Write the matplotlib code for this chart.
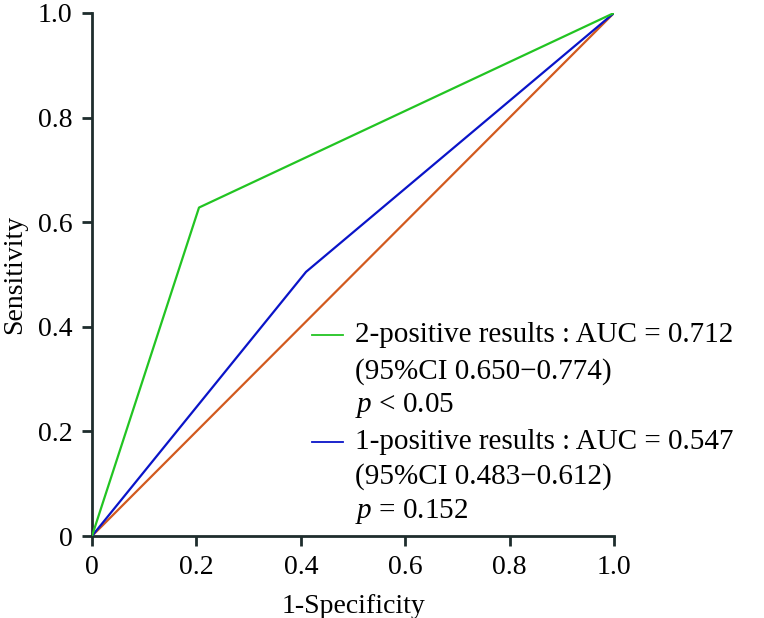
import matplotlib
matplotlib.use("Agg")
import matplotlib.pyplot as plt

plt.rcParams['font.family'] = ['Liberation Serif', 'DejaVu Serif']
plt.rcParams['mathtext.fontset'] = 'custom'
plt.rcParams['mathtext.rm'] = 'Liberation Serif'
plt.rcParams['mathtext.it'] = 'Liberation Serif:italic'

# Data
fpr_two = [0.0, 0.205, 1.0]
tpr_two = [0.0, 0.628, 1.0]
fpr_one = [0.0, 0.41, 1.0]
tpr_one = [0.0, 0.505, 1.0]
ref_x = [0.0, 1.0]
ref_y = [0.0, 1.0]
ticks = [0, 0.2, 0.4, 0.6, 0.8, 1.0]
tick_labels = ["0", "0.2", "0.4", "0.6", "0.8", "1.0"]
label_two = ["2-positive results : AUC = 0.712", "(95%CI 0.650\u22120.774)", "$p$ < 0.05"]
label_one = ["1-positive results : AUC = 0.547", "(95%CI 0.483\u22120.612)", "$p$ = 0.152"]

green = "#22c422"
blue = "#0a14c8"
orange = "#d25a1e"
spine_c = "#1e2d2d"

fig = plt.figure(figsize=(7.64, 6.18), dpi=100)
ax = fig.add_axes([92/764, 82/618, 522/764, 523/618])

ax.plot(ref_x, ref_y, color=orange, lw=1.6, zorder=2)
ax.plot(fpr_one, tpr_one, color=blue, lw=1.6, zorder=3)
ax.plot(fpr_two, tpr_two, color=green, lw=1.6, zorder=4)

ax.set_xlim(0, 1)
ax.set_ylim(0, 1)
ax.set_xticks(ticks)
ax.set_xticklabels(tick_labels)
ax.set_yticks(ticks)
ax.set_yticklabels(tick_labels)
for s in ['top', 'right']:
    ax.spines[s].set_visible(False)
for s in ['left', 'bottom']:
    ax.spines[s].set_color(spine_c)
    ax.spines[s].set_linewidth(2.0)
ax.tick_params(direction='out', length=7, width=2.0, color=spine_c,
               labelsize=20, pad=7)
ax.set_xlabel("1-Specificity", fontsize=20, labelpad=10)
ax.set_ylabel("Sensitivity", fontsize=20, labelpad=8)

# Legend drawn as text blocks
def entry(y_px, color, lines):
    ax.plot([(312-92)/522, (343-92)/522], [(536-y_px[0])/523]*2, color=color, lw=1.3,
            transform=ax.transAxes, clip_on=False)
    for yp, t in zip(y_px, lines):
        ax.text((355-92)/522, (536-yp)/523, t, transform=ax.transAxes,
                fontsize=21, va='center', ha='left')

entry([335, 372, 406], green, label_two)
entry([442, 477, 512], blue, label_one)

fig.savefig("out.png", dpi=100)
